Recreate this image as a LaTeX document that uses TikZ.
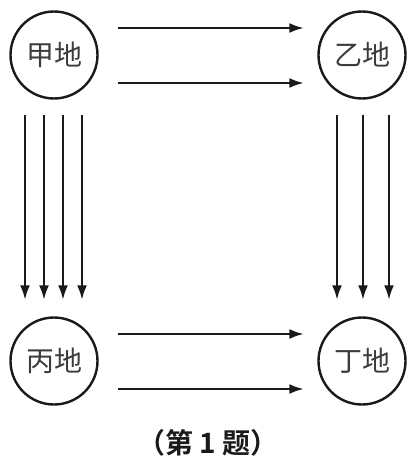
\documentclass[tikz,border=0pt]{standalone}
\usepackage{fontspec}
\usepackage{tikz}
\usetikzlibrary{arrows.meta,positioning}
\newfontfamily\cjk[BoldFont={* Bold}]{Noto Sans CJK SC}
\definecolor{Ink}{HTML}{1A1A1A}

\begin{document}
\begin{tikzpicture}[x=1pt,y=-1pt,
    place/.style={draw=Ink,circle,line width=2.4pt,minimum size=87pt,inner sep=0pt,
      font=\cjk\fontsize{28}{28}\selectfont,text=Ink!85},
    flow/.style={-{Latex[length=15pt,width=10pt]},Ink,line width=2.8pt}]
    \useasboundingbox (0,0) rectangle (412,460);

    \node[place] (jia)  at (54,55)  {甲地};
    \node[place] (yi)   at (362,55) {乙地};
    \node[place] (bing) at (54,361) {丙地};
    \node[place] (ding) at (362,361) {丁地};

    % horizontal flows
    \foreach \dy in {-27,28} {
      \draw[flow] ([shift={(19,\dy)}]jia.east) -- ([shift={(-13,\dy)}]yi.west);
      \draw[flow] ([shift={(19,\dy)}]bing.east) -- ([shift={(-13,\dy)}]ding.west);
    }

    % vertical flows
    \foreach \dx in {-29,-10,9,28}
      \draw[flow] ([shift={(\dx,15)}]jia.south) -- ([shift={(\dx,-16)}]bing.north);
    \foreach \dx in {-25,1,27}
      \draw[flow] ([shift={(\dx,15)}]yi.south) -- ([shift={(\dx,-16)}]ding.north);

    \node[font=\cjk\bfseries\fontsize{28}{28}\selectfont,text=Ink] (cap) at (208,443) {（第 1 题）};
\end{tikzpicture}
\end{document}
